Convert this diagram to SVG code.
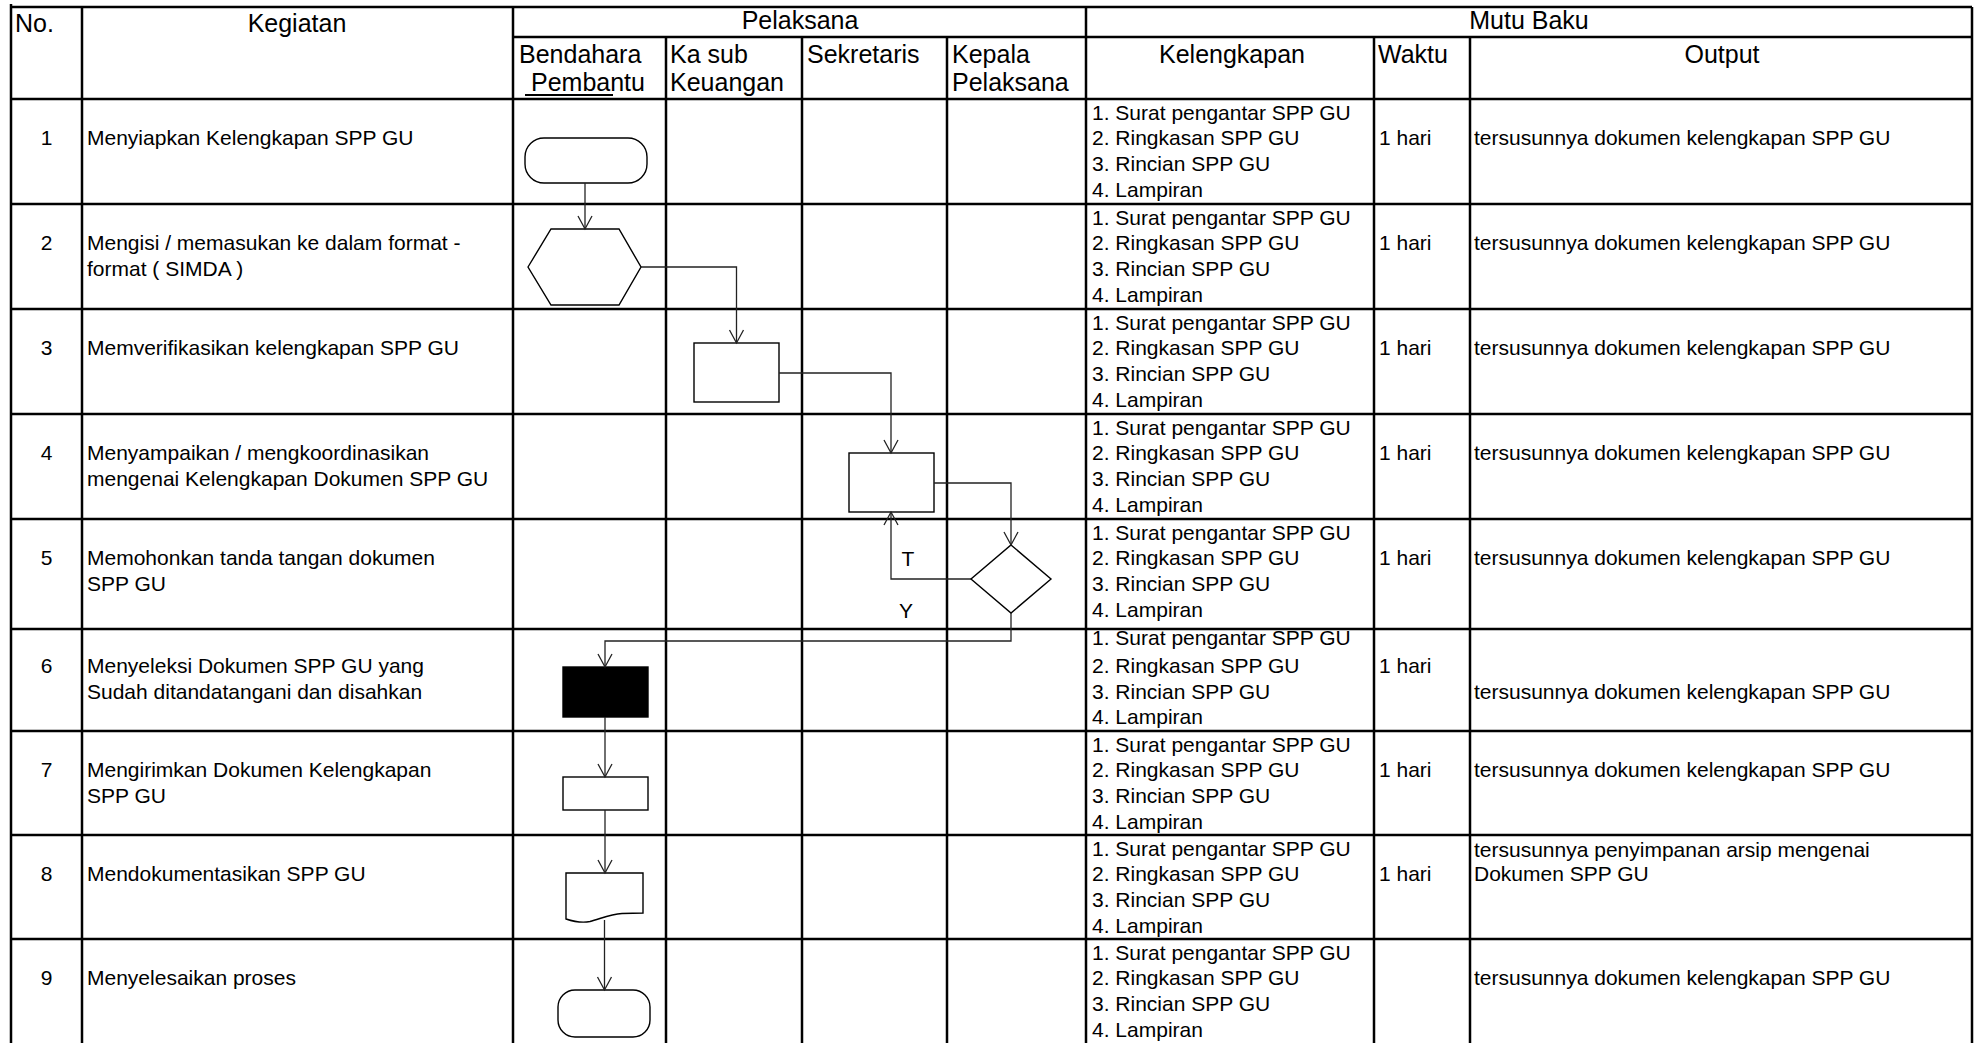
<svg xmlns="http://www.w3.org/2000/svg" width="1977" height="1043" viewBox="0 0 1977 1043">
<style>
.bg{fill:#fff}
.grid line{stroke:#000;stroke-width:2.5}
text{font-family:"Liberation Sans",Arial,sans-serif;fill:#000}
.h{font-size:25px}
.t{font-size:21px}
.c{text-anchor:middle}
.shape{fill:#fff;stroke:#000;stroke-width:1.4}
.solid{fill:#000;stroke:#000;stroke-width:1.4}
.conn path{fill:none;stroke:#222;stroke-width:1.3;marker-end:url(#arr)}
</style>
<defs>
<marker id="arr" markerUnits="userSpaceOnUse" markerWidth="30" markerHeight="30" viewBox="-15 -15 30 30" refX="0" refY="0" orient="auto">
<path d="M-13,-7 L0,0 L-13,7" fill="none" stroke="#222" stroke-width="1.3"/>
</marker>
</defs>
<rect class="bg" x="0" y="0" width="1977" height="1043"/>

<g id="grid" class="grid">
<line x1="11" y1="7" x2="1972" y2="7"/>
<line x1="513" y1="37" x2="1972" y2="37"/>
<line x1="11" y1="99" x2="1972" y2="99"/>
<line x1="11" y1="204" x2="1972" y2="204"/>
<line x1="11" y1="309" x2="1972" y2="309"/>
<line x1="11" y1="414" x2="1972" y2="414"/>
<line x1="11" y1="519" x2="1972" y2="519"/>
<line x1="11" y1="629" x2="1972" y2="629"/>
<line x1="11" y1="731" x2="1972" y2="731"/>
<line x1="11" y1="835" x2="1972" y2="835"/>
<line x1="11" y1="939" x2="1972" y2="939"/>
<line x1="11" y1="4" x2="11" y2="1043"/>
<line x1="82" y1="7" x2="82" y2="1043"/>
<line x1="513" y1="7" x2="513" y2="1043"/>
<line x1="666" y1="37" x2="666" y2="1043"/>
<line x1="802" y1="37" x2="802" y2="1043"/>
<line x1="947" y1="37" x2="947" y2="1043"/>
<line x1="1086" y1="7" x2="1086" y2="1043"/>
<line x1="1374" y1="37" x2="1374" y2="1043"/>
<line x1="1470" y1="37" x2="1470" y2="1043"/>
<line x1="1972" y1="7" x2="1972" y2="1043"/>
</g>

<g id="header">
<text class="h" x="15" y="32">No.</text>
<text class="h c" x="297" y="32">Kegiatan</text>
<text class="h c" x="800" y="29">Pelaksana</text>
<text class="h c" x="1529" y="29">Mutu Baku</text>
<text class="h" x="519" y="63">Bendahara</text>
<text class="h" x="531" y="91">Pembantu</text>
<line x1="525" y1="95" x2="613" y2="95" stroke="#000" stroke-width="2"/>
<text class="h" x="670" y="63">Ka sub</text>
<text class="h" x="670" y="91">Keuangan</text>
<text class="h" x="807" y="63">Sekretaris</text>
<text class="h" x="952" y="63">Kepala</text>
<text class="h" x="952" y="91">Pelaksana</text>
<text class="h c" x="1232" y="63">Kelengkapan</text>
<text class="h" x="1378" y="63">Waktu</text>
<text class="h c" x="1722" y="63">Output</text>
</g>

<g id="rows" class="t">
<!-- row 1 -->
<text class="t c" x="46.5" y="145">1</text>
<text class="t" x="87" y="145">Menyiapkan Kelengkapan SPP GU</text>
<text class="t" x="1092" y="120">1. Surat pengantar SPP GU</text>
<text class="t" x="1092" y="145">2. Ringkasan SPP GU</text>
<text class="t" x="1092" y="171">3. Rincian SPP GU</text>
<text class="t" x="1092" y="197">4. Lampiran</text>
<text class="t" x="1379" y="145">1 hari</text>
<text class="t" x="1474" y="145">tersusunnya dokumen kelengkapan SPP GU</text>
<!-- row 2 -->
<text class="t c" x="46.5" y="250">2</text>
<text class="t" x="87" y="250">Mengisi / memasukan ke dalam format -</text>
<text class="t" x="87" y="276">format ( SIMDA )</text>
<text class="t" x="1092" y="225">1. Surat pengantar SPP GU</text>
<text class="t" x="1092" y="250">2. Ringkasan SPP GU</text>
<text class="t" x="1092" y="276">3. Rincian SPP GU</text>
<text class="t" x="1092" y="302">4. Lampiran</text>
<text class="t" x="1379" y="250">1 hari</text>
<text class="t" x="1474" y="250">tersusunnya dokumen kelengkapan SPP GU</text>
<!-- row 3 -->
<text class="t c" x="46.5" y="355">3</text>
<text class="t" x="87" y="355">Memverifikasikan kelengkapan SPP GU</text>
<text class="t" x="1092" y="330">1. Surat pengantar SPP GU</text>
<text class="t" x="1092" y="355">2. Ringkasan SPP GU</text>
<text class="t" x="1092" y="381">3. Rincian SPP GU</text>
<text class="t" x="1092" y="407">4. Lampiran</text>
<text class="t" x="1379" y="355">1 hari</text>
<text class="t" x="1474" y="355">tersusunnya dokumen kelengkapan SPP GU</text>
<!-- row 4 -->
<text class="t c" x="46.5" y="460">4</text>
<text class="t" x="87" y="460">Menyampaikan / mengkoordinasikan</text>
<text class="t" x="87" y="486">mengenai Kelengkapan Dokumen SPP GU</text>
<text class="t" x="1092" y="435">1. Surat pengantar SPP GU</text>
<text class="t" x="1092" y="460">2. Ringkasan SPP GU</text>
<text class="t" x="1092" y="486">3. Rincian SPP GU</text>
<text class="t" x="1092" y="512">4. Lampiran</text>
<text class="t" x="1379" y="460">1 hari</text>
<text class="t" x="1474" y="460">tersusunnya dokumen kelengkapan SPP GU</text>
<!-- row 5 -->
<text class="t c" x="46.5" y="565">5</text>
<text class="t" x="87" y="565">Memohonkan tanda tangan dokumen</text>
<text class="t" x="87" y="591">SPP GU</text>
<text class="t" x="1092" y="540">1. Surat pengantar SPP GU</text>
<text class="t" x="1092" y="565">2. Ringkasan SPP GU</text>
<text class="t" x="1092" y="591">3. Rincian SPP GU</text>
<text class="t" x="1092" y="617">4. Lampiran</text>
<text class="t" x="1379" y="565">1 hari</text>
<text class="t" x="1474" y="565">tersusunnya dokumen kelengkapan SPP GU</text>
<!-- row 6 -->
<text class="t c" x="46.5" y="673">6</text>
<text class="t" x="87" y="673">Menyeleksi Dokumen SPP GU yang</text>
<text class="t" x="87" y="699">Sudah ditandatangani dan disahkan</text>
<text class="t" x="1092" y="645">1. Surat pengantar SPP GU</text>
<text class="t" x="1092" y="673">2. Ringkasan SPP GU</text>
<text class="t" x="1092" y="699">3. Rincian SPP GU</text>
<text class="t" x="1092" y="724">4. Lampiran</text>
<text class="t" x="1379" y="673">1 hari</text>
<text class="t" x="1474" y="699">tersusunnya dokumen kelengkapan SPP GU</text>
<!-- row 7 -->
<text class="t c" x="46.5" y="777">7</text>
<text class="t" x="87" y="777">Mengirimkan Dokumen Kelengkapan</text>
<text class="t" x="87" y="803">SPP GU</text>
<text class="t" x="1092" y="752">1. Surat pengantar SPP GU</text>
<text class="t" x="1092" y="777">2. Ringkasan SPP GU</text>
<text class="t" x="1092" y="803">3. Rincian SPP GU</text>
<text class="t" x="1092" y="829">4. Lampiran</text>
<text class="t" x="1379" y="777">1 hari</text>
<text class="t" x="1474" y="777">tersusunnya dokumen kelengkapan SPP GU</text>
<!-- row 8 -->
<text class="t c" x="46.5" y="881">8</text>
<text class="t" x="87" y="881">Mendokumentasikan SPP GU</text>
<text class="t" x="1092" y="856">1. Surat pengantar SPP GU</text>
<text class="t" x="1092" y="881">2. Ringkasan SPP GU</text>
<text class="t" x="1092" y="907">3. Rincian SPP GU</text>
<text class="t" x="1092" y="933">4. Lampiran</text>
<text class="t" x="1379" y="881">1 hari</text>
<text class="t" x="1474" y="857">tersusunnya penyimpanan arsip mengenai</text>
<text class="t" x="1474" y="881">Dokumen SPP GU</text>
<!-- row 9 -->
<text class="t c" x="46.5" y="985">9</text>
<text class="t" x="87" y="985">Menyelesaikan proses</text>
<text class="t" x="1092" y="960">1. Surat pengantar SPP GU</text>
<text class="t" x="1092" y="985">2. Ringkasan SPP GU</text>
<text class="t" x="1092" y="1011">3. Rincian SPP GU</text>
<text class="t" x="1092" y="1037">4. Lampiran</text>
<text class="t" x="1474" y="985">tersusunnya dokumen kelengkapan SPP GU</text>
</g>

<g id="n1-start"><rect class="shape" x="525" y="138" width="122" height="45" rx="19" ry="19"/></g>
<g id="n2-prep"><polygon class="shape" points="528,267 551,229 619,229 641,267 619,305 551,305"/></g>
<g id="n3-verify"><rect class="shape" x="694" y="343" width="85" height="59"/></g>
<g id="n4-coord"><rect class="shape" x="849" y="453" width="85" height="59"/></g>
<g id="n5-decision"><polygon class="shape" points="1011,545 1051,579 1011,613 971,579"/></g>
<g id="n6-select"><rect class="solid" x="563" y="667" width="85" height="50"/></g>
<g id="n7-send"><rect class="shape" x="563" y="777" width="85" height="33"/></g>
<g id="n8-doc"><path class="shape" d="M566,873 H643 V913 L622,913.5 C610,914 600,919 590,921.5 C580,923.5 572,921 566,919 Z"/></g>
<g id="n9-end"><rect class="shape" x="558" y="990" width="92" height="47" rx="17" ry="17"/></g>

<g id="labels">
<text class="t c" x="908" y="566">T</text>
<text class="t c" x="906" y="618">Y</text>
</g>

<g id="connectors" class="conn">
<path d="M585,183 V229"/>
<path d="M641,267 H736.5 V343"/>
<path d="M779,373 H891 V453"/>
<path d="M934,483 H1011 V545"/>
<path d="M971,579 H891 V512"/>
<path d="M1011,613 V641 H605 V667"/>
<path d="M605,717 V777"/>
<path d="M605,810 V873"/>
<path d="M604.5,920 V990"/>
</g>
</svg>
